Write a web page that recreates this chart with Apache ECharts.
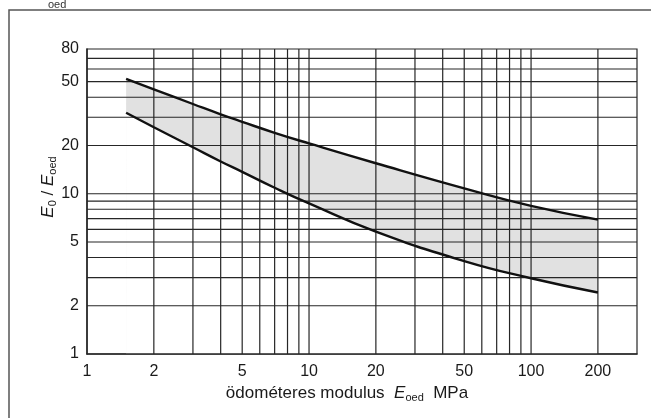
<!DOCTYPE html>
<html>
<head>
<meta charset="utf-8">
<script src="https://cdn.jsdelivr.net/npm/echarts@6/dist/echarts.min.js"></script>
<style>
  html, body { margin: 0; padding: 0; background: #fff; }
  #chart { width: 651px; height: 418px; }
</style>
</head>
<body>
<div id="chart"></div>
<script>
// ödométeres modulus (MPa) where the curves were read
const modulus = [1.5, 2, 3, 4, 5, 7, 10, 20, 50, 100, 200]
// upper and lower bound of E0 / Eoed
const upperRatio = [52, 44.8, 36.3, 31.3, 28.1, 24.0, 20.6, 15.5, 10.8, 8.4, 6.9]
const lowerRatio = [32, 26.0, 19.5, 15.9, 13.7, 10.9, 8.7, 5.8, 3.8, 2.97, 2.42]

const xTickLabels = [1, 2, 5, 10, 20, 50, 100, 200]
const yTickLabels = [1, 2, 5, 10, 20, 50, 80]
const xGridLines = [2, 3, 4, 5, 6, 7, 8, 9, 10, 20, 30, 40, 50, 60, 70, 80, 90, 100, 200]
const yGridLines = [2, 3, 4, 5, 6, 7, 8, 9, 10, 20, 30, 40, 50, 60, 70]

const X_MIN = 1
const X_MAX = 300
const Y_MIN = 1
const Y_MAX = 80

const font = 'Liberation Sans, Arial, sans-serif'
const ink = '#1a1a1a'

const upperData = modulus.map((x, i) => [x, upperRatio[i]])
const lowerData = modulus.map((x, i) => [x, lowerRatio[i]])

const chart = echarts.init(document.getElementById('chart'), null, { renderer: 'canvas' })

function gridLine(vertical) {
  return function(params, api) {
    const v = api.value(vertical ? 0 : 1)
    const a = vertical ? api.coord([v, Y_MIN]) : api.coord([X_MIN, v])
    const b = vertical ? api.coord([v, Y_MAX]) : api.coord([X_MAX, v])
    return {
      type: 'line',
      shape: { x1: a[0], y1: a[1], x2: b[0], y2: b[1] },
      style: { stroke: '#262626', lineWidth: 1.2 }
    }
  }
}

const smooth = 0.5
const nameRich = {
  i: { fontSize: 17, fontStyle: 'italic', fontFamily: font, fill: ink, lineHeight: 20 },
  n: { fontSize: 17, fontFamily: font, fill: ink, lineHeight: 20 },
  s: { fontSize: 11, fontFamily: font, fill: ink, lineHeight: 10, verticalAlign: 'bottom' }
}

chart.setOption({
  animation: false,
  backgroundColor: '#fff',
  textStyle: { fontFamily: font },
  grid: {
    left: 87,
    right: 14,
    top: 49,
    bottom: 64,
    show: true,
    borderColor: '#262626',
    borderWidth: 1.2
  },
  xAxis: {
    type: 'log',
    logBase: 10,
    min: X_MIN,
    max: X_MAX,
    z: 10,
    axisLine: { show: true, lineStyle: { color: '#262626', width: 1.5 } },
    axisTick: { show: false },
    splitLine: { show: false },
    axisLabel: {
      customValues: xTickLabels,
      color: ink,
      fontSize: 16,
      margin: 10,
      fontFamily: font
    }
  },
  yAxis: {
    type: 'log',
    logBase: 10,
    min: Y_MIN,
    max: Y_MAX,
    z: 10,
    axisLine: { show: true, lineStyle: { color: '#262626', width: 1.5 } },
    axisTick: { show: false },
    splitLine: { show: false },
    axisLabel: {
      customValues: yTickLabels,
      color: ink,
      fontSize: 16,
      margin: 8,
      fontFamily: font
    }
  },
  graphic: [
    {
      type: 'rect',
      shape: { x: 9, y: 10, width: 700, height: 500 },
      style: { fill: 'none', stroke: '#555', lineWidth: 1.5 },
      z: 0
    },
    {
      type: 'text',
      x: 48,
      y: -1,
      style: { text: 'oed', font: '11px ' + font, fill: '#333' }
    },
    {
      type: 'text',
      x: 48,
      y: 187,
      rotation: Math.PI / 2,
      style: {
        text: '{i|E}{s|0}{n| / }{i|E}{s|oed}',
        align: 'center',
        verticalAlign: 'middle',
        rich: nameRich
      }
    },
    {
      type: 'text',
      x: 347,
      y: 393,
      style: {
        text: '{n|ödométeres modulus  }{i|E}{s|oed}{n|  MPa}',
        align: 'center',
        verticalAlign: 'middle',
        rich: nameRich
      }
    }
  ],
  series: [
    {
      // shaded band: grey down to the axis, then white under the lower bound
      name: 'upperArea',
      type: 'line',
      data: upperData,
      smooth: smooth,
      symbol: 'none',
      z: 1,
      lineStyle: { width: 0 },
      areaStyle: { color: '#e1e1e1', opacity: 1, origin: 'start' }
    },
    {
      name: 'lowerArea',
      type: 'line',
      data: lowerData,
      smooth: smooth,
      symbol: 'none',
      z: 1,
      lineStyle: { width: 0 },
      areaStyle: { color: '#fff', opacity: 1, origin: 'start' }
    },
    {
      name: 'xGrid',
      type: 'custom',
      z: 2,
      silent: true,
      data: xGridLines.map(v => [v, Y_MIN]),
      renderItem: gridLine(true)
    },
    {
      name: 'yGrid',
      type: 'custom',
      z: 2,
      silent: true,
      data: yGridLines.map(v => [X_MIN, v]),
      renderItem: gridLine(false)
    },
    {
      name: 'upper',
      type: 'line',
      data: upperData,
      smooth: smooth,
      symbol: 'none',
      z: 3,
      lineStyle: { color: '#111', width: 2.4 }
    },
    {
      name: 'lower',
      type: 'line',
      data: lowerData,
      smooth: smooth,
      symbol: 'none',
      z: 3,
      lineStyle: { color: '#111', width: 2.4 }
    }
  ]
})
</script>
</body>
</html>
